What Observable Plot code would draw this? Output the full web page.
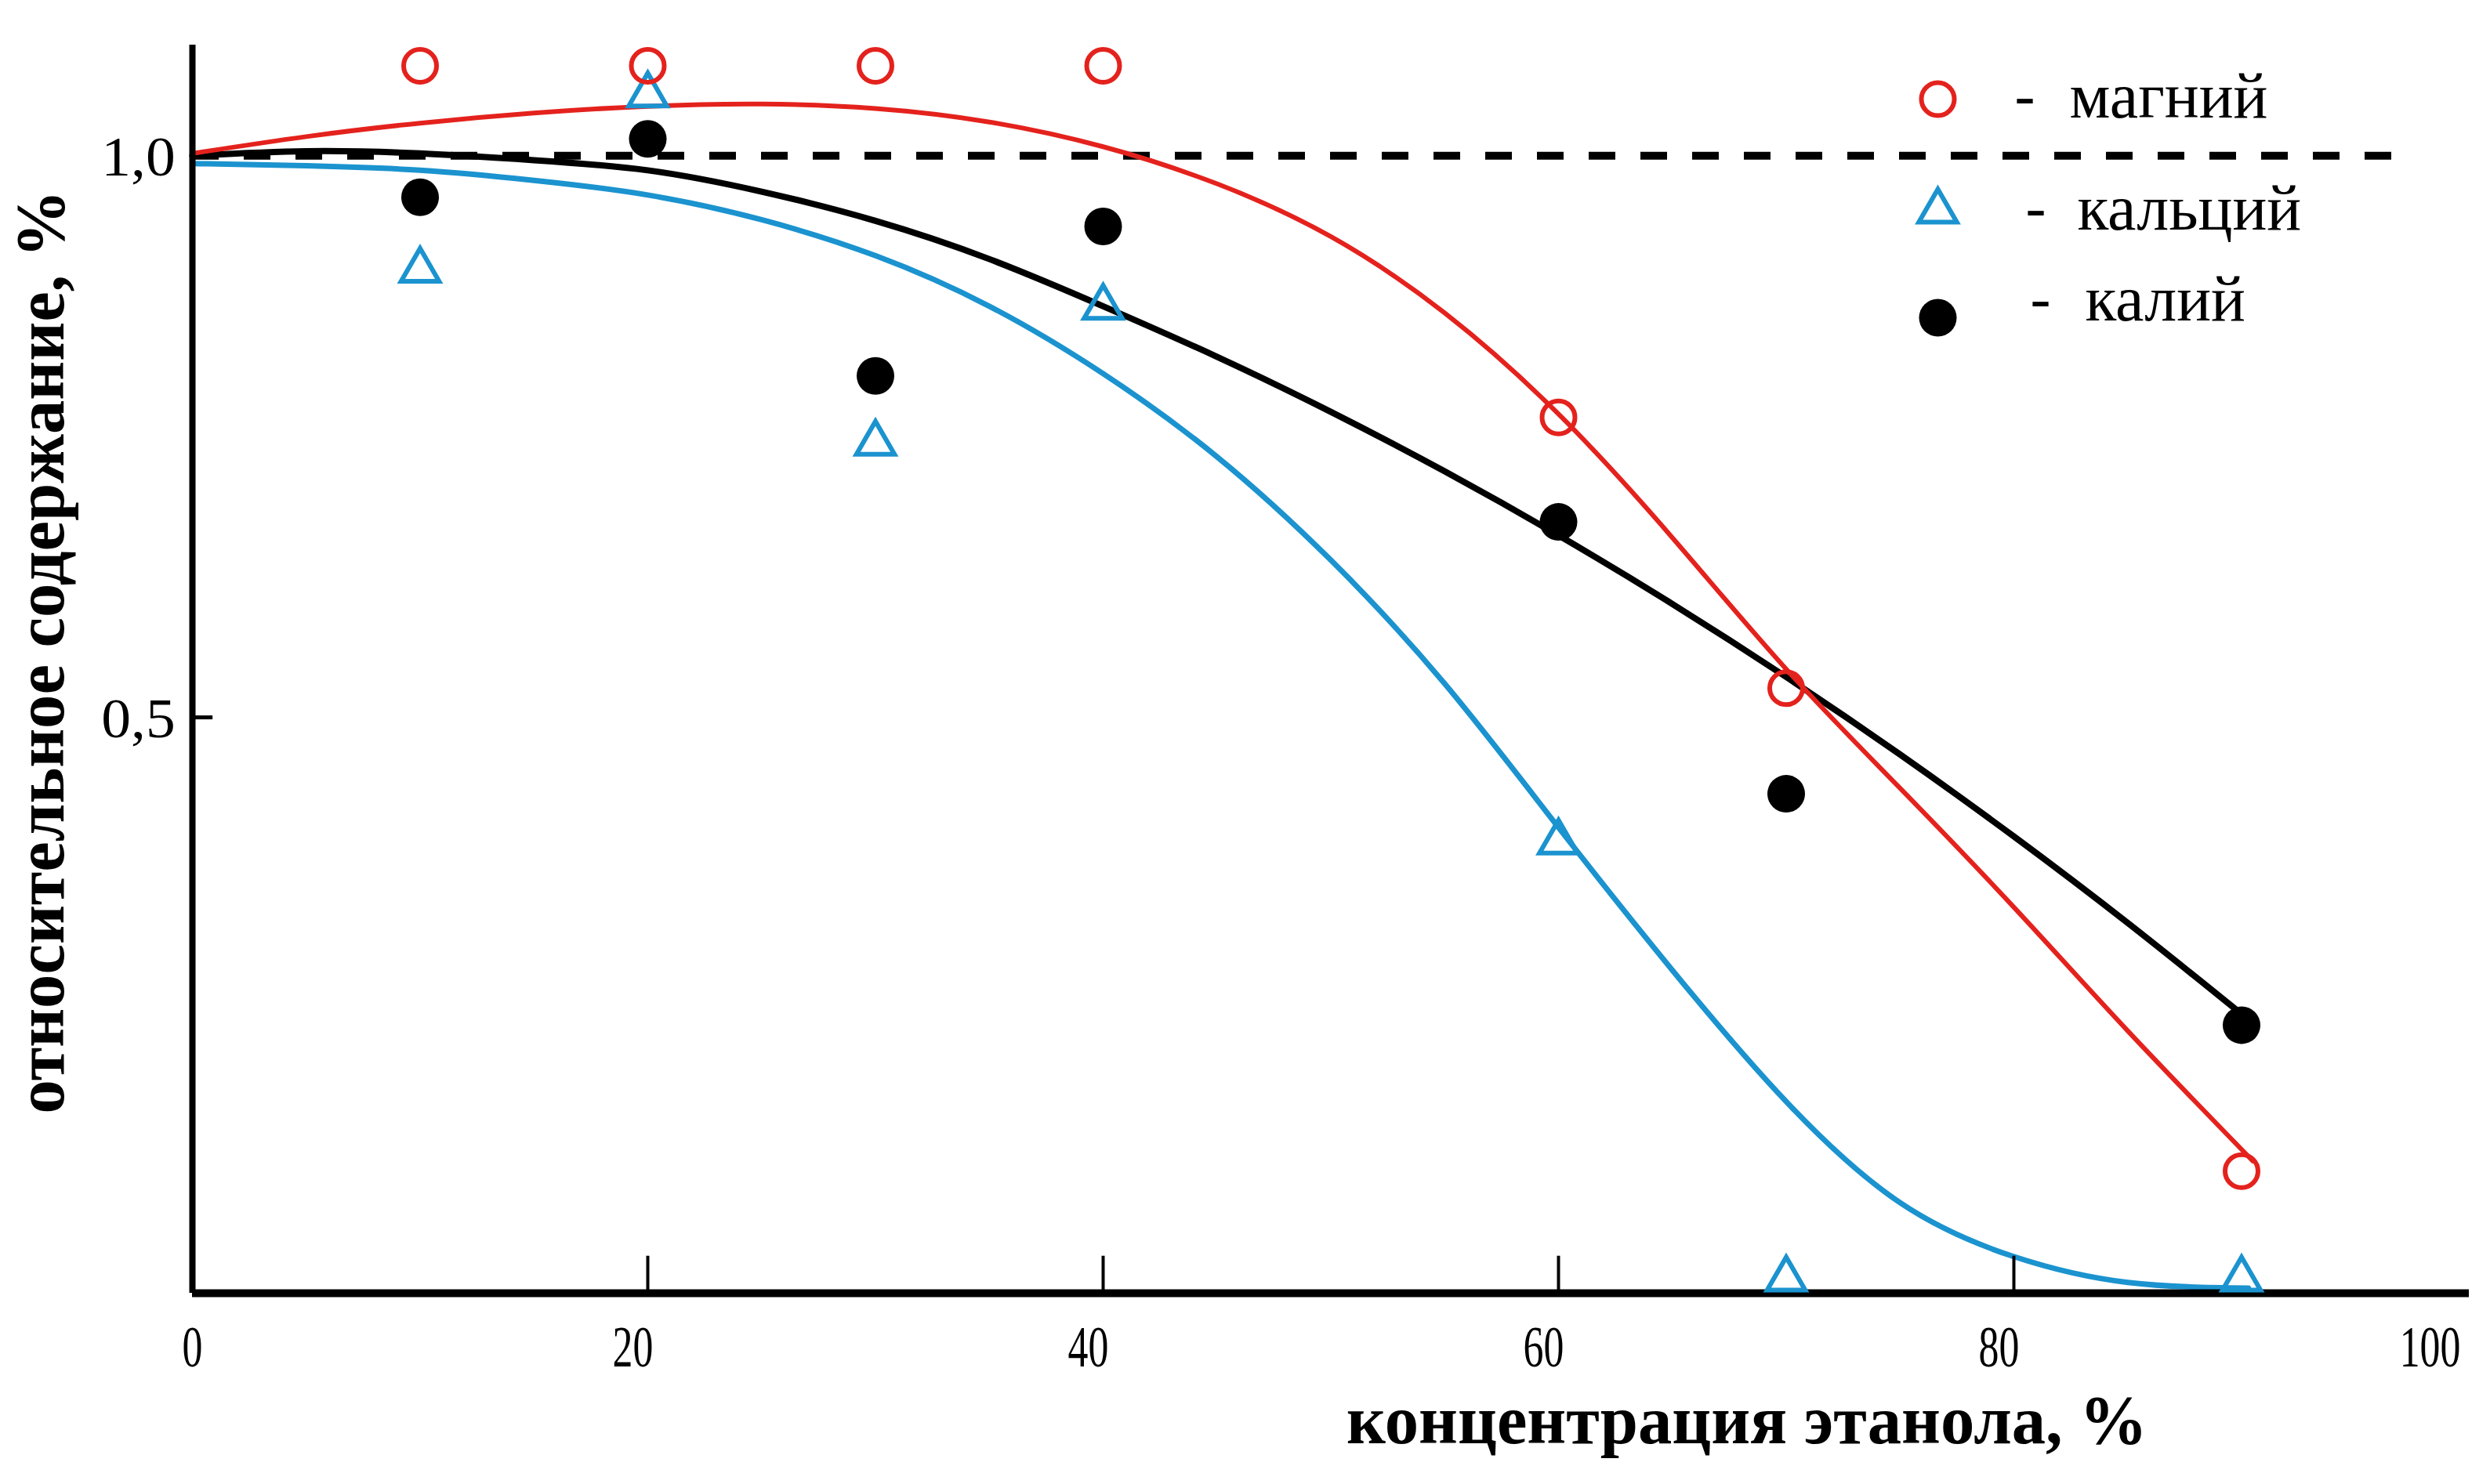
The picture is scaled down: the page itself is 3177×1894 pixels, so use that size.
<!DOCTYPE html>
<html><head><meta charset="utf-8">
<script src="https://cdn.jsdelivr.net/npm/d3@7"></script>
<script src="https://cdn.jsdelivr.net/npm/@observablehq/plot@0.6"></script>
<style>html,body{margin:0;padding:0;background:#fff;}</style>
</head><body><div id="chart"></div>
<script>
// ---- data ----
const ethanol = [10, 20, 30, 40, 60, 70, 90];
const magnesium = [1.080, 1.080, 1.080, 1.080, 0.767, 0.526, 0.096];
const calcium   = [0.898, 1.054, 0.744, 0.865, 0.389, 0.000, 0.000];
const potassium = [0.963, 1.015, 0.804, 0.937, 0.674, 0.432, 0.226];

const mgFitX = [0, 5, 10, 15, 20, 25, 30, 35, 40, 45, 50, 55, 60, 65, 70, 75, 80, 85, 90.5];
const mgFitY = [1.002, 1.017, 1.029, 1.038, 1.044, 1.046, 1.042, 1.030, 1.008, 0.975, 0.928, 0.860, 0.770, 0.660, 0.543, 0.437, 0.331, 0.221, 0.105];
const kFitX = [0, 5, 10, 15, 20, 25, 30, 35, 40, 45, 50, 55, 60, 65, 70, 75, 80, 85, 90];
const kFitY = [1.000, 1.004, 1.002, 0.996, 0.987, 0.968, 0.942, 0.908, 0.866, 0.821, 0.772, 0.719, 0.662, 0.601, 0.536, 0.467, 0.394, 0.317, 0.236];
const caFitX = [0, 5, 10, 15, 20, 25, 30, 35, 40, 45, 50, 55, 60, 65, 70, 75, 80, 85, 90.3];
const caFitY = [0.993, 0.991, 0.987, 0.978, 0.965, 0.943, 0.911, 0.866, 0.806, 0.732, 0.640, 0.530, 0.402, 0.275, 0.158, 0.068, 0.020, -0.003, -0.008];

const refLevel = 1.0, refEnd = 97;
const xTicks = [0, 20, 40, 60, 80, 100];
const xTickMarks = [20, 40, 60, 80];
const yTicks = [0.5, 1.0];
const yTickMarks = [0.5];
const yTickText = ["0,5", "1,0"];
const legendNames = ["магний", "кальций", "калий"];
const xLabel = "концентрация этанола, %";
const yLabel = "относительное содержание, %";

// ---- styles ----
const RED = "#e4221d", BLUE = "#1b93cf", BLACK = "#000";
const yMin = -0.0126, yMax = 1.0985;
const serif = "'Liberation Serif', 'Times New Roman', serif";

const zip = (xs, ys) => xs.map((x, i) => ({x, y: ys[i]}));
const mgPts = zip(ethanol, magnesium), caPts = zip(ethanol, calcium), kPts = zip(ethanol, potassium);

const legendRows = [
  {symbol: "circle", stroke: RED, fill: "none", r: 21, sw: 6, dy: 69, tdy: 66, dashDx: 2338, nameDx: 2395},
  {symbol: "triangle", stroke: BLUE, fill: "none", r: 18, sw: 6, dy: 212, tdy: 209, dashDx: 2352, nameDx: 2405},
  {symbol: "circle", stroke: "none", fill: BLACK, r: 24, sw: 0, dy: 348, tdy: 325, dashDx: 2358, nameDx: 2415}
];
const legendMarks = legendRows.flatMap((row, i) => [
  Plot.dot([legendNames[i]], {frameAnchor: "top-left", dx: 2227, dy: row.dy, symbol: row.symbol, r: row.r,
    stroke: row.stroke, fill: row.fill, strokeWidth: row.sw}),
  Plot.text(["-"], {frameAnchor: "top-left", dx: row.dashDx, dy: row.tdy, text: d => d, textAnchor: "middle",
    lineAnchor: "middle", fontSize: 78, fontFamily: serif}),
  Plot.text([legendNames[i]], {frameAnchor: "top-left", dx: row.nameDx, dy: row.tdy, text: d => d, textAnchor: "start",
    lineAnchor: "middle", fontSize: 82, fontFamily: serif})
]);

const xLabelOpts = {y: yMin, dy: 70, text: d => String(d), fontSize: 74, fontFamily: serif, ariaDescription: "xticklabels"};

const chart = Plot.plot({
  width: 3177, height: 1894,
  marginLeft: 245, marginRight: 27, marginTop: 57, marginBottom: 244,
  x: {domain: [0, 100], axis: null},
  y: {domain: [yMin, yMax], axis: null},
  style: {background: "#fff", fontFamily: serif, color: "#000"},
  marks: [
    // reference line
    Plot.ruleY([refLevel], {x1: 0, x2: refEnd, stroke: BLACK, strokeWidth: 10, strokeDasharray: "34,32"}),
    // fitted curves
    Plot.line(zip(caFitX, caFitY), {x: "x", y: "y", stroke: BLUE, strokeWidth: 7, curve: "natural"}),
    Plot.line(zip(kFitX, kFitY), {x: "x", y: "y", stroke: BLACK, strokeWidth: 8, curve: "natural"}),
    Plot.line(zip(mgFitX, mgFitY), {x: "x", y: "y", stroke: RED, strokeWidth: 6, curve: "natural"}),
    // axes
    Plot.ruleX([0], {stroke: BLACK, strokeWidth: 8}),
    Plot.ruleY([yMin], {stroke: BLACK, strokeWidth: 10}),
    Plot.ruleX(xTickMarks, {y1: yMin, y2: yMin + 0.033, stroke: BLACK, strokeWidth: 4}),
    Plot.ruleY(yTickMarks, {x1: 0, x2: 0.9, stroke: BLACK, strokeWidth: 5}),
    Plot.text(xTicks.slice(0, 1), {...xLabelOpts, x: d => d, dx: 0}),
    Plot.text(xTicks.slice(1, -1), {...xLabelOpts, x: d => d, dx: -19}),
    Plot.text(xTicks.slice(-1), {...xLabelOpts, x: d => d, dx: -50}),
    Plot.text(yTicks, {x: 0, y: d => d, dx: -69, dy: 2, text: (d, i) => yTickText[i], fontSize: 72,
      fontFamily: serif, ariaDescription: "yticklabels"}),
    // axis titles
    Plot.text([xLabel], {frameAnchor: "bottom", dx: 531, dy: 163, text: d => d, fontSize: 88, fontWeight: "bold",
      textAnchor: "middle", lineAnchor: "middle", fontFamily: serif, ariaDescription: "xlabel"}),
    Plot.text([yLabel], {frameAnchor: "left", dx: -193, dy: -22, rotate: -90, text: d => d, fontSize: 88,
      textAnchor: "middle", lineAnchor: "middle", fontWeight: "bold", fontFamily: serif, ariaDescription: "ylabel"}),
    // data points
    Plot.dot(caPts, {x: "x", y: "y", symbol: "triangle", r: 18, stroke: BLUE, strokeWidth: 6, fill: "none"}),
    Plot.dot(mgPts, {x: "x", y: "y", symbol: "circle", r: 21, stroke: RED, strokeWidth: 6, fill: "none"}),
    Plot.dot(kPts, {x: "x", y: "y", r: 24, fill: BLACK, stroke: "none"}),
    ...legendMarks
  ]
});
document.getElementById("chart").appendChild(chart);

function fitLength(desc, fn) {
  d3.select(chart).selectAll(`g[aria-description="${desc}"] text`).each(function() {
    const L = this.getComputedTextLength();
    this.setAttribute("textLength", fn(L, this.textContent));
    this.setAttribute("lengthAdjust", "spacingAndGlyphs");
  });
}
fitLength("xticklabels", L => L * 0.7);
fitLength("yticklabels", L => L * 1.05);
fitLength("xlabel", () => 1022);
fitLength("ylabel", () => 1179);
</script>
</body></html>
